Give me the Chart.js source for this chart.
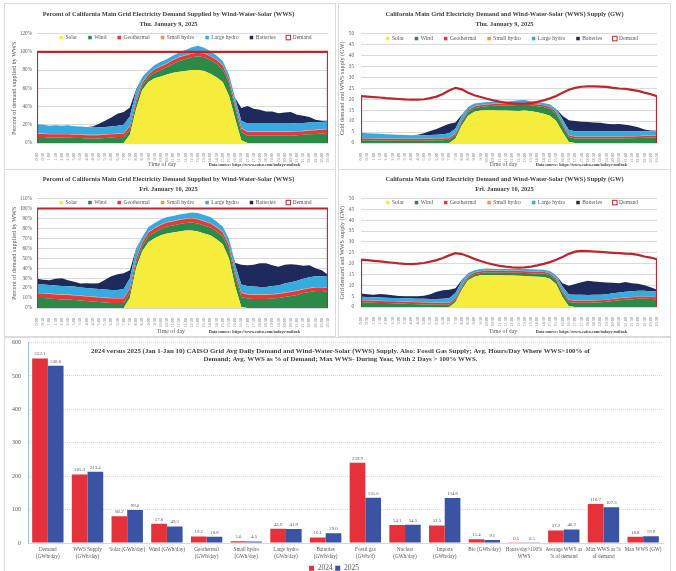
<!DOCTYPE html>
<html>
<head>
<meta charset="utf-8">
<title>CAISO Wind-Water-Solar supply</title>
<script src="https://cdn.jsdelivr.net/npm/chart.js@4.4.1/dist/chart.umd.min.js"></script>
<style>
  html, body { margin: 0; padding: 0; background: #fff; }
  body { width: 676px; height: 571px; position: relative; overflow: hidden; }
  .panel { position: absolute; box-sizing: border-box; border: 1px solid #dcdcdc; background: #fff; }
  .panel canvas { position: absolute; left: 0; top: 0; }
</style>
</head>
<body>
<div class="panel" style="left:4px;top:3px;width:332px;height:167px"><canvas id="pctThu" width="330" height="165"></canvas></div>
<div class="panel" style="left:338px;top:3px;width:333px;height:167px"><canvas id="gwThu" width="331" height="165"></canvas></div>
<div class="panel" style="left:4px;top:169px;width:332px;height:168px"><canvas id="pctFri" width="330" height="166"></canvas></div>
<div class="panel" style="left:338px;top:169px;width:333px;height:168px"><canvas id="gwFri" width="331" height="166"></canvas></div>
<div class="panel" style="left:4px;top:337px;width:667px;height:246px"><canvas id="avgBars" width="665" height="244"></canvas></div>

<script>
const SERIF = '"Liberation Serif", "Times New Roman", serif';

// ---- half-hourly time axis ----
const timeLabels = ['0:00','0:30','1:00','1:30','2:00','2:30','3:00','3:30','4:00','4:30','5:00','5:30',
  '6:00','6:30','7:00','7:30','8:00','8:30','9:00','9:30','10:00','10:30','11:00','11:30',
  '12:00','12:30','13:00','13:30','14:00','14:30','15:00','15:30','16:00','16:30','17:00','17:30',
  '18:00','18:30','19:00','19:30','20:00','20:30','21:00','21:30','22:00','22:30','23:00','23:30'];

const seriesNames  = ['Solar', 'Wind', 'Geothermal', 'Small hydro', 'Large hydro', 'Batteries'];
const seriesColors = ['#F6EC3C', '#2B8A47', '#E5373C', '#F29446', '#35ABE0', '#1E2A5B'];
const demandName = 'Demand';
const demandColor = '#BE262C';

// ---- Thu. January 9, 2025: percent of demand ----
const pctThuSolar  = [0,0,0,0,0,0,0,0,0,0,0,0,0,0,0,9,37,58,67,71,73,75,77,78,79,80,80,79,76,72,67,52,27,3,0,0,0,0,0,0,0,0,0,0,0,0,0,0];
const pctThuWind   = [6.5,6.5,6,6,6,6,5.5,5.5,5,5,5,5.5,6,6.5,6.5,5.5,6,5,5,6,7,8,10,12,13,14,15,15,15,15,14,14,12,9,8,8,8,8,8,8,8,8,8.5,9,9.5,10,10.5,11];
const pctThuGeo    = [3.5,3.5,3.5,3.5,3.5,3.5,3.5,3.5,3.5,3.5,3.5,3.5,3.5,3.5,4,4,4,3,3,3.5,4,4,4,4,4,4,4,4,4,4,4,4,4,4,4,4,4,4,4,4,4,4,4,4,4,4,4,4];
const pctThuSmall  = [0.5,0.5,0.5,0.5,0.5,0.5,0.5,0.5,0.5,0.5,0.5,0.5,0.5,0.5,0.5,0.5,0.5,0.5,0.5,0.5,0.5,0.5,0.5,0.5,0.5,0.5,0.5,0.5,0.5,0.5,0.5,0.5,0.5,0.5,0.5,0.5,0.5,0.5,0.5,0.5,0.5,0.5,0.5,0.5,0.5,0.5,0.5,0.5];
const pctThuLarge  = [10,9.5,9,9.5,9,9.5,9,8.5,8.5,8,8,8,8,8.5,9,10,9,6,4,4.5,4.5,4.5,4.5,5,5.5,6.5,7,6,5,4.5,4.5,5,6,8,9,9,9,9,9,9,9,9,9,8.5,8.5,8,8,8];
const pctThuBatt   = [0,0,0,0,0,0,0,0,0,1,4,7,10,13,14,10,2,0,0,0,0,0,0,0,0,0,0,0,0,0,0,0,0,14,19,16,15,13,13,11,12,12.5,9,8,6,3,1.5,1];

// ---- Fri. January 10, 2025: percent of demand ----
const pctFriSolar  = [0,0,0,0,0,0,0,0,0,0,0,0,0,0,0,10,40,57,66,70,73,75,76,77,78,78,77,75,73,69,64,50,22,1,0,0,0,0,0,0,0,0,0,0,0,0,0,0];
const pctFriWind   = [10,10,9.5,9,8.5,8.5,8,7.5,7,6.5,6,5.5,5,5,5,5,5,5,6,6,6.5,7,7,7.5,7.5,8,8,8,8,8,8,9,10,10,9.5,9,9,9,9.5,10,11,12,13,15,16,17,17,16.5];
const pctFriGeo    = [4.5,4.5,4.5,4.5,4.5,4.5,4.5,4.5,4.5,4.5,4.5,4.5,4.5,4.5,4.5,4.5,4,3.5,4,4,4,4,4,4,4,4,4,4,4,4,4,4,4,4,4,4,4,4,4,4,4,4,4,3.5,3.5,3.5,3.5,3.5];
const pctFriSmall  = [0.5,0.5,0.5,0.5,0.5,0.5,0.5,0.5,0.5,0.5,0.5,0.5,0.5,0.5,0.5,0.5,0.5,0.5,0.5,0.5,0.5,0.5,0.5,0.5,0.5,0.5,0.5,0.5,0.5,0.5,0.5,0.5,0.5,0.5,0.5,0.5,0.5,0.5,0.5,0.5,0.5,0.5,0.5,0.5,0.5,0.5,0.5,0.5];
const pctFriLarge  = [8.5,8.5,8.5,8.5,8.5,8.5,8.5,8,8,8,8,8,8,8,9,10,9,5,5,5,5,5,5,5,5,5.5,6,6,6,5.5,5.5,6,7,8,8,8,7.5,7.5,8,8,9,9.5,10,10.5,11,11,11,11];
const pctFriBatt   = [6,5,5,7,8,6,5,4,5,5,6,10,14,16,16,8,1,0,0,0,0,0,0,0,0,0,0,0,0,0,0,0,2,20,21,22,24,24,21,19,19,18,16,13,12,8,6,2];

// full demand is the 100% reference line
const demandPct = 100;

// ---- Thu. January 9, 2025: GW ----
const gwThuDemand = [21.4,21.2,21.0,20.8,20.5,20.3,20.1,19.9,19.8,19.8,20.0,20.5,21.2,22.4,24.0,25.2,24.5,23.0,21.8,21.0,20.2,19.5,18.9,18.4,18.1,18.0,18.0,18.2,18.8,19.5,20.4,21.5,23.0,24.3,25.2,25.7,25.9,25.9,25.8,25.6,25.2,24.9,24.7,24.3,23.8,23.0,22.3,21.4];
const gwThuSolar  = [0,0,0,0,0,0,0,0,0,0,0,0,0,0,0,2,8,12.5,14.3,14.8,15,15,14.8,14.8,14.7,14.6,14.8,14.5,14,13.4,12.5,10,5,0.5,0,0,0,0,0,0,0,0,0,0,0,0,0,0];
const gwThuWind   = [1.2,1.2,1.1,1.1,1.1,1,1,1,1,1,1,1.1,1.2,1.3,1.5,1.5,1.5,1.5,1.6,1.7,1.8,2,2.2,2.4,2.6,2.8,2.7,2.7,2.8,3,3.2,3.2,3,2.2,2.1,2.1,2.1,2.1,2.1,2.1,2.1,2.1,2.2,2.2,2.3,2.4,2.5,2.5];
const gwThuGeo    = [0.8,0.8,0.8,0.8,0.8,0.8,0.8,0.8,0.8,0.8,0.8,0.8,0.8,0.8,0.8,0.8,0.8,0.8,0.8,0.8,0.8,0.8,0.8,0.8,0.8,0.8,0.8,0.8,0.8,0.8,0.8,0.8,0.8,0.8,0.8,0.8,0.8,0.8,0.8,0.8,0.8,0.8,0.8,0.8,0.8,0.8,0.8,0.8];
const gwThuSmall  = [0.1,0.1,0.1,0.1,0.1,0.1,0.1,0.1,0.1,0.1,0.1,0.1,0.1,0.1,0.1,0.1,0.1,0.1,0.1,0.1,0.1,0.1,0.1,0.1,0.1,0.1,0.1,0.1,0.1,0.1,0.1,0.1,0.1,0.1,0.1,0.1,0.1,0.1,0.1,0.1,0.1,0.1,0.1,0.1,0.1,0.1,0.1,0.1];
const gwThuLarge  = [2.6,2.4,2.3,2.2,2,2,1.9,1.8,1.6,1.6,1.6,1.7,1.7,1.8,2,2.2,2,1.5,1.2,1,1,0.9,0.9,0.9,1,1.2,1.2,1,1,1,1.1,1.4,2,2.3,2.4,2.4,2.4,2.4,2.4,2.4,2.4,2.4,2.3,2.3,2.2,2.1,2,2];
const gwThuBatt   = [0,0,0,0,0,0,0,0,0,0.3,1,1.8,2.6,3.6,4.4,2.8,0.5,0,0,0,0,0,0,0,0,0,0,0,0,0,0,0,1.5,4.5,4.6,4.3,4.2,4,3.8,3.4,3.2,3.3,2.9,2.5,1.8,0.8,0.3,0.2];

// ---- Fri. January 10, 2025: GW ----
const gwFriDemand = [21.8,21.6,21.3,21.0,20.7,20.4,20.1,19.9,19.8,20.0,20.3,20.9,21.6,22.6,23.8,24.8,24.4,23.4,22.2,21.2,20.3,19.6,19.0,18.6,18.3,18.2,18.3,18.6,19.2,19.9,20.7,21.8,23.1,24.5,25.5,25.9,25.8,25.6,25.4,25.2,25.0,24.8,24.6,24.5,24.0,23.3,22.8,22.0];
const gwFriSolar  = [0,0,0,0,0,0,0,0,0,0,0,0,0,0,0,2.2,8,12.3,14,14.6,14.8,14.7,14.6,14.5,14.5,14.4,14.3,14.1,14,13.8,13,10.5,4.5,0.3,0,0,0,0,0,0,0,0,0,0,0,0,0,0];
const gwFriWind   = [2.2,2.1,2,1.9,1.8,1.7,1.6,1.5,1.4,1.3,1.2,1.1,1,1,1,1,1,1,1.1,1.1,1.2,1.2,1.2,1.3,1.3,1.4,1.4,1.5,1.5,1.6,1.7,1.8,2,2,2,2,2,2.1,2.2,2.4,2.8,3.1,3.4,3.6,3.8,3.8,3.7,3.6];
const gwFriGeo    = [0.9,0.9,0.9,0.9,0.9,0.9,0.9,0.9,0.9,0.9,0.9,0.9,0.9,0.9,0.9,0.9,0.9,0.8,0.8,0.8,0.8,0.8,0.8,0.8,0.8,0.8,0.8,0.8,0.8,0.8,0.8,0.8,0.9,0.9,0.9,0.9,0.9,0.9,0.9,0.9,0.9,0.9,0.9,0.9,0.9,0.9,0.9,0.9];
const gwFriSmall  = [0.1,0.1,0.1,0.1,0.1,0.1,0.1,0.1,0.1,0.1,0.1,0.1,0.1,0.1,0.1,0.1,0.1,0.1,0.1,0.1,0.1,0.1,0.1,0.1,0.1,0.1,0.1,0.1,0.1,0.1,0.1,0.1,0.1,0.1,0.1,0.1,0.1,0.1,0.1,0.1,0.1,0.1,0.1,0.1,0.1,0.1,0.1,0.1];
const gwFriLarge  = [1.5,1.5,1.5,1.5,1.5,1.5,1.5,1.5,1.5,1.5,1.6,1.6,1.7,1.8,2,2.2,2,1.5,1,0.9,0.8,0.8,0.8,0.8,0.8,0.9,0.9,0.9,0.9,0.9,1,1.3,2,2.5,2.6,2.6,2.5,2.5,2.5,2.5,2.5,2.6,2.6,2.7,2.7,2.7,2.6,2.5];
const gwFriBatt   = [1.5,1.3,1.2,1.6,1.5,1.2,1,0.9,1,1.2,1.4,2.2,3.3,3.9,4,2.3,0.5,0,0,0,0,0,0,0,0,0,0,0,0,0,0,0,1.5,4,5,5.8,6.6,6.2,5.8,5.4,4.9,4.2,4.5,3.7,3.2,2.5,1.8,0.8];

// ---- 2024 vs 2025 (Jan 1 - Jan 10) averages ----
const barCategories = [
  ['Demand', '(GWh/day)'], ['WWS Supply', '(GWh/day)'], 'Solar (GWh/day)', 'Wind (GWh/day)',
  ['Geothermal', '(GWh/day)'], ['Small hydro', '(GWh/day)'], ['Large hydro', '(GWh/day)'], ['Batteries', '(GWh/day)'],
  ['Fossil gas', '(GWh/d)'], ['Nuclear', '(GWh/day)'], ['Imports', '(GWh/day)'], 'Bio (GWh/day)',
  ['Hours/day>100%', 'WWS'], ['Average WWS as', '% of demand'], ['Max WWS as %', 'of demand'], 'Max WWS (GW)'];
const avg2024 = [552.1, 205.3, 80.2, 57.8, 19.2, 5.0, 42.9, 16.1, 239.9, 54.1, 52.5, 11.4, 0.5, 37.2, 116.7, 18.8];
const avg2025 = [530.6, 213.4, 99.0, 49.3, 18.8, 4.5, 41.9, 29.0, 135.6, 54.5, 134.6, 9.1, 0.5, 40.2, 107.3, 19.9];
const barYears = ['2024', '2025'];
const barColors = ['#E4313A', '#3A53A3'];
const barTitle = [
  '2024 versus 2025 (Jan 1-Jan 10) CAISO Grid Avg Daily Demand and Wind-Water-Solar (WWS) Supply. Also: Fossil Gas Supply; Avg. Hours/Day Where WWS>100% of',
  'Demand; Avg. WWS as % of Demand; Max WWS- During Year, With 2 Days > 100% WWS.'];

const sourceNote = 'Data source: https://www.caiso.com/todays-outlook';

// ---- plugins ----
// series key drawn across the top of the plot area
const seriesKey = {
  id: 'seriesKey',
  afterDraw(chart, args, o) {
    const { ctx, chartArea: a } = chart;
    ctx.save();
    ctx.font = `${o.size}px ${SERIF}`;
    ctx.textBaseline = 'middle';
    const items = chart.data.datasets.map(d => ({ text: d.label, outline: d.label === demandName,
      color: d.label === demandName ? d.borderColor : d.backgroundColor }));
    const widths = items.map(it => o.box + o.gap + ctx.measureText(it.text).width);
    const total = widths.reduce((s, w) => s + w, 0) + o.pad * (items.length - 1);
    let x = (a.left + a.right) / 2 - total / 2 + o.shift;
    const y = a.top + o.offset;
    items.forEach((it, i) => {
      if (it.outline) {
        ctx.fillStyle = '#fff';
        ctx.strokeStyle = it.color;
        ctx.lineWidth = 1;
        ctx.fillRect(x - 0.5, y - o.box / 2 - 0.5, o.box + 1, o.box + 1);
        ctx.strokeRect(x - 0.5, y - o.box / 2 - 0.5, o.box + 1, o.box + 1);
      } else {
        ctx.fillStyle = it.color;
        ctx.fillRect(x, y - o.box / 2, o.box, o.box);
      }
      ctx.fillStyle = '#595959';
      ctx.fillText(it.text, x + o.box + o.gap, y);
      x += widths[i] + o.pad;
    });
    ctx.restore();
  }
};

// axis caption and data-source note under the time axis
const footNotes = {
  id: 'footNotes',
  afterDraw(chart, args, o) {
    const { ctx, chartArea: a } = chart;
    const w = a.right - a.left;
    const y = chart.height - o.lift;
    ctx.save();
    ctx.fillStyle = '#595959';
    ctx.textBaseline = 'middle';
    ctx.textAlign = 'center';
    ctx.font = `${o.axisSize}px ${SERIF}`;
    ctx.fillText('Time of day', a.left + o.axisAt * w, y);
    ctx.textAlign = 'left';
    ctx.fillStyle = '#404040';
    ctx.font = `bold ${o.noteSize}px ${SERIF}`;
    ctx.fillText(sourceNote, a.left + o.noteAt * w, y + 1);
    ctx.restore();
  }
};

// value labels above each bar
const barValueLabels = {
  id: 'barValueLabels',
  afterDatasetsDraw(chart, args, o) {
    const { ctx } = chart;
    ctx.save();
    ctx.font = `${o.size}px ${SERIF}`;
    ctx.fillStyle = '#595959';
    ctx.textAlign = 'center';
    ctx.textBaseline = 'bottom';
    chart.data.datasets.forEach((ds, di) => {
      chart.getDatasetMeta(di).data.forEach((bar, i) => {
        ctx.fillText(ds.data[i].toFixed(1), bar.x, bar.y - o.gap);
      });
    });
    ctx.restore();
  }
};

// heading printed inside the plot area
const innerHeading = {
  id: 'innerHeading',
  afterDraw(chart, args, o) {
    const { ctx, chartArea: a } = chart;
    ctx.save();
    ctx.font = `bold ${o.size}px ${SERIF}`;
    ctx.fillStyle = '#404040';
    ctx.textAlign = 'center';
    ctx.textBaseline = 'middle';
    o.lines.forEach((t, k) => ctx.fillText(t, chart.width / 2 + o.shift, a.top + o.first + k * o.step));
    ctx.restore();
  }
};

// ---- daily profile charts ----
function stackDatasets(series) {
  return series.map((vals, k) => ({
    label: seriesNames[k],
    data: vals.map((v, i) => ({ x: i, y: v })),
    backgroundColor: seriesColors[k],
    borderColor: seriesColors[k],
    borderWidth: 0,
    pointRadius: 0,
    fill: k === 0 ? 'origin' : '-1',
    stack: 'wws',
    order: 1
  }));
}

function demandDataset(vals) {
  const last = vals.length - 1;
  const pts = [{ x: 0, y: 0 }].concat(vals.map((v, i) => ({ x: i, y: v })), [{ x: last, y: 0 }]);
  return {
    label: demandName, data: pts, borderColor: demandColor, backgroundColor: '#fff',
    borderWidth: 2.2, pointRadius: 0, fill: false, stack: 'demand', order: 0
  };
}

function profileChart(id, cfg) {
  const scales = {
    x: {
      type: 'linear', min: 0, max: timeLabels.length - 1,
      grid: { display: false }, border: { display: false },
      ticks: { stepSize: 1, autoSkip: false, maxRotation: 90, minRotation: 90, padding: 2,
        font: { family: SERIF, size: 4.2 }, color: '#808080',
        callback: v => timeLabels[v] },
      afterFit: s => { s.height = cfg.xHeight; }
    },
    y: {
      stacked: true, min: 0, max: cfg.yMax,
      grid: { color: '#dadada', drawTicks: false }, border: { display: false },
      ticks: { stepSize: cfg.yStep, padding: cfg.tickPad, font: { family: SERIF, size: 5.2 }, color: '#595959',
        callback: cfg.pct ? (v => v + '%') : (v => v) },
      title: { display: true, text: cfg.yTitle, color: '#595959', font: { family: SERIF, size: 6.2 },
        padding: { top: cfg.yTitlePad, bottom: 0 } },
      afterFit: s => { s.width = cfg.yWidth; }
    }
  };
  if (cfg.rightAxis) {
    scales.y2 = {
      position: 'right', min: 0, max: cfg.yMax,
      grid: { display: false }, border: { display: false },
      ticks: { stepSize: cfg.yStep, padding: 5, font: { family: SERIF, size: 5.2 }, color: '#595959' },
      afterFit: s => { s.width = cfg.rightWidth; }
    };
  }
  return new Chart(document.getElementById(id), {
    type: 'line',
    data: { datasets: stackDatasets(cfg.series).concat([demandDataset(cfg.demand)]) },
    options: {
      responsive: false, animation: false, events: [],
      layout: { padding: { left: 0, right: cfg.padRight, top: 0, bottom: 0 } },
      elements: { line: { tension: 0 } },
      plugins: {
        legend: { display: false },
        tooltip: { enabled: false },
        title: { display: true, text: cfg.title, color: '#404040',
          font: { family: SERIF, size: 6.4, weight: 'bold', lineHeight: 1.45 },
          padding: { top: cfg.titleTop, bottom: cfg.titleBottom } },
        seriesKey: { size: 5.6, box: 3.5, gap: 2.5, pad: 11, offset: cfg.keyOffset, shift: 3 },
        footNotes: { axisAt: cfg.axisAt, noteAt: 0.59, axisSize: 5.8, noteSize: 4.2, lift: 5 }
      },
      scales
    },
    plugins: [seriesKey, footNotes]
  });
}

const pctTitle = 'Percent of California Main Grid Electricity Demand Supplied by Wind-Water-Solar (WWS)';
const gwTitle = 'California Main Grid Electricity Demand and Wind-Water-Solar (WWS) Supply (GW)';

profileChart('pctThu', {
  title: [pctTitle, 'Thu. January 9, 2025'], pct: true, yMax: 120, yStep: 10,
  yTitle: 'Percent of demand supplied by WWS', yTitlePad: 6, yWidth: 32, tickPad: 5,
  xHeight: 26, padRight: 3, titleTop: 6, titleBottom: 5, keyOffset: 4, axisAt: 0.43,
  series: [pctThuSolar, pctThuWind, pctThuGeo, pctThuSmall, pctThuLarge, pctThuBatt],
  demand: timeLabels.map(() => demandPct)
});

profileChart('gwThu', {
  title: [gwTitle, 'Thu. January 9, 2025'], pct: false, yMax: 50, yStep: 5,
  yTitle: 'Grid demand and WWS supply (GW)', yTitlePad: 0, yWidth: 22, tickPad: 7,
  rightAxis: true, rightWidth: 13, xHeight: 26, padRight: 0, titleTop: 6, titleBottom: 5, keyOffset: 5, axisAt: 0.48,
  series: [gwThuSolar, gwThuWind, gwThuGeo, gwThuSmall, gwThuLarge, gwThuBatt],
  demand: gwThuDemand
});

profileChart('pctFri', {
  title: [pctTitle, 'Fri. January 10, 2025'], pct: true, yMax: 110, yStep: 10,
  yTitle: 'Percent of demand supplied by WWS', yTitlePad: 6, yWidth: 32, tickPad: 5,
  xHeight: 28, padRight: 3, titleTop: 5, titleBottom: 5, keyOffset: 4, axisAt: 0.46,
  series: [pctFriSolar, pctFriWind, pctFriGeo, pctFriSmall, pctFriLarge, pctFriBatt],
  demand: timeLabels.map(() => demandPct)
});

profileChart('gwFri', {
  title: [gwTitle, 'Fri. January 10, 2025'], pct: false, yMax: 50, yStep: 5,
  yTitle: 'Grid demand and WWS supply (GW)', yTitlePad: 0, yWidth: 22, tickPad: 7,
  rightAxis: true, rightWidth: 13, xHeight: 29, padRight: 0, titleTop: 5, titleBottom: 5, keyOffset: 4, axisAt: 0.48,
  series: [gwFriSolar, gwFriWind, gwFriGeo, gwFriSmall, gwFriLarge, gwFriBatt],
  demand: gwFriDemand
});

// ---- grouped bar chart ----
new Chart(document.getElementById('avgBars'), {
  type: 'bar',
  data: {
    labels: barCategories,
    datasets: [avg2024, avg2025].map((vals, k) => ({
      label: barYears[k], data: vals, backgroundColor: barColors[k],
      categoryPercentage: 0.79, barPercentage: 1
    }))
  },
  options: {
    responsive: false, animation: false, events: [],
    layout: { padding: { left: 0, right: 7, top: 0, bottom: 0 } },
    plugins: {
      legend: { position: 'bottom',
        labels: { boxWidth: 5, boxHeight: 5, padding: 2.5, color: '#595959', font: { family: SERIF, size: 7.5 } } },
      tooltip: { enabled: false },
      barValueLabels: { size: 4.8, gap: 2 },
      innerHeading: { lines: barTitle, size: 6.9, first: 9, step: 8, shift: 3 }
    },
    scales: {
      x: {
        grid: { display: false, drawTicks: false }, border: { color: '#d9d9d9' },
        ticks: { autoSkip: false, maxRotation: 0, minRotation: 0, padding: 3,
          font: { family: SERIF, size: 5.2, lineHeight: 1.35 }, color: '#595959' },
        afterFit: s => { s.height = 19; }
      },
      y: {
        min: 0, max: 600,
        grid: { color: '#d9d9d9', drawTicks: true, tickLength: 6, tickColor: 'rgba(0,0,0,0)' },
        border: { color: '#9DC3E6', dash: [1, 1] },
        ticks: { stepSize: 100, padding: 1, font: { family: SERIF, size: 6 }, color: '#595959' },
        afterFit: s => { s.width = 23; }
      }
    }
  },
  plugins: [barValueLabels, innerHeading]
});
</script>
</body>
</html>
